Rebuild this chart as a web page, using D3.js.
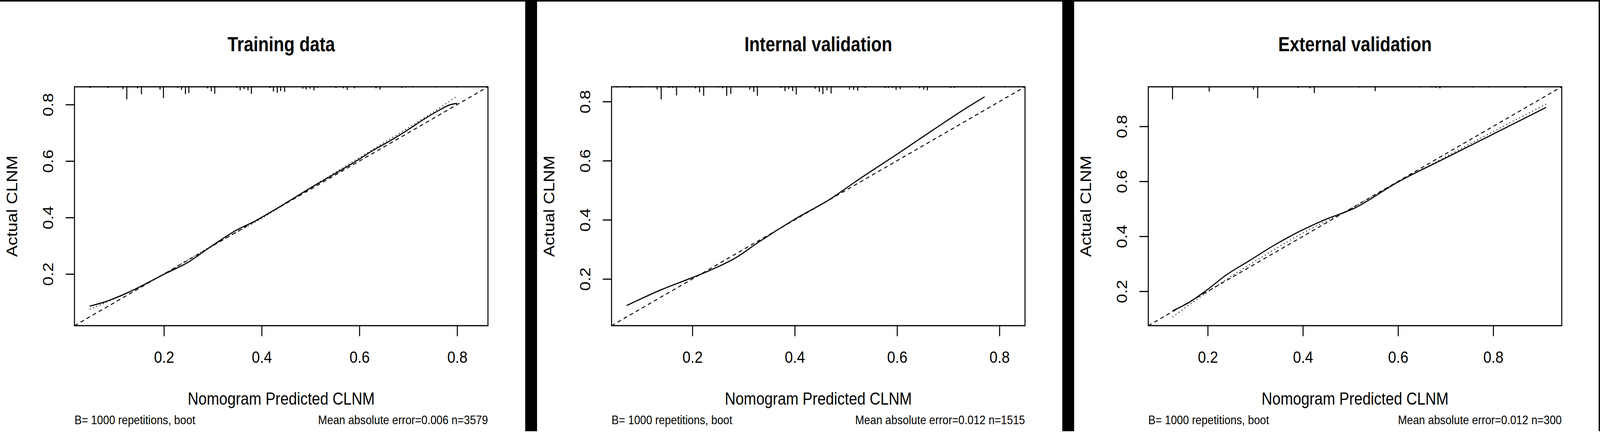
<!DOCTYPE html>
<html>
<head>
<meta charset="utf-8">
<script src="https://cdn.jsdelivr.net/npm/d3@7"></script>
<style>
html, body { margin: 0; padding: 0; background: #fff; overflow: hidden; }
svg { display: block; }
text { font-family: "Liberation Sans", Arial, sans-serif; fill: #000; }
</style>
</head>
<body>
<script>
// calibration curves, three panels

var titles = ["Training data", "Internal validation", "External validation"];
var xLabel = "Nomogram Predicted CLNM";
var yLabel = "Actual CLNM";
var footLeft = "B= 1000 repetitions, boot";
var footRight = ["Mean absolute error=0.006 n=3579", "Mean absolute error=0.012 n=1515", "Mean absolute error=0.012 n=300"];
var limits = [[0.017, 0.863], [0.042, 0.850], [0.075, 0.944]];
var tickValues = [0.2, 0.4, 0.6, 0.8];

// bias-corrected (solid)
var trainCorrected = [[0.048,0.086],[0.077,0.100],[0.096,0.112],[0.126,0.134],[0.142,0.147],[0.2,0.199],[0.247,0.239],[0.296,0.297],[0.346,0.353],[0.388,0.389],[0.43,0.431],[0.5,0.505],[0.6,0.607],[0.627,0.637],[0.661,0.670],[0.696,0.707],[0.731,0.747],[0.765,0.782],[0.785,0.799],[0.8,0.804]];
var internalCorrected = [[0.0715,0.110],[0.141,0.165],[0.199,0.204],[0.242,0.235],[0.285,0.272],[0.328,0.323],[0.4,0.402],[0.471,0.472],[0.522,0.533],[0.6,0.622],[0.672,0.706],[0.737,0.780],[0.771,0.816]];
var externalCorrected = [[0.126,0.129],[0.163,0.162],[0.2,0.207],[0.237,0.257],[0.288,0.312],[0.340,0.368],[0.384,0.410],[0.443,0.458],[0.509,0.503],[0.6,0.598],[0.7,0.685],[0.8,0.772],[0.911,0.869]];

// apparent (dotted)
var trainApparent = [[0.048,0.075],[0.1,0.113],[0.2,0.2],[0.3,0.302],[0.4,0.397],[0.5,0.506],[0.6,0.612],[0.7,0.718],[0.75,0.772],[0.8,0.83]];
var externalApparent = [[0.126,0.107],[0.2,0.198],[0.3,0.31],[0.4,0.412],[0.5,0.5],[0.6,0.598],[0.7,0.689],[0.8,0.781],[0.911,0.881]];

// histogram spikes of predicted values along the top
var trainRugX = [0.049,0.086,0.116,0.124,0.146,0.154,0.192,0.199,0.228,0.236,0.244,0.251,0.289,0.297,0.304,0.349,0.356,0.364,0.372,0.379,0.417,0.424,0.432,0.439,0.447,0.484,0.491,0.499,0.507,0.514,0.552,0.567,0.575,0.590,0.634,0.642,0.687,0.695,0.710,0.756,0.800];
var trainRugFreq = [3,3,6,32,4,19,7,29,3,8,19,16,4,12,18,3,9,6,9,18,3,12,15,11,13,5,7,5,9,3,3,4,8,4,4,7,3,2,2,2,2];
var internalRugX = [0.053,0.078,0.101,0.131,0.139,0.154,0.162,0.169,0.206,0.214,0.222,0.251,0.259,0.267,0.275,0.312,0.320,0.327,0.373,0.381,0.388,0.396,0.403,0.440,0.448,0.455,0.463,0.471,0.507,0.515,0.523,0.538,0.576,0.583,0.591,0.598,0.606,0.644,0.652,0.659,0.705,0.712,0.765,0.811];
var internalRugFreq = [2,3,2,7,32,3,3,22,4,14,23,2,4,23,18,7,13,23,3,11,6,11,20,5,13,19,9,17,7,8,10,3,3,3,3,8,6,4,7,9,3,3,2,2];
var externalRugX = [0.126,0.203,0.296,0.305,0.390,0.415,0.424,0.518,0.552,0.646,0.671,0.679,0.688,0.757,0.790,0.867];
var externalRugFreq = [32,12,7,29,3,4,16,2,11,2,2,3,4,2,2,3];

var panels = [
    {corrected: trainCorrected, apparent: trainApparent, rugX: trainRugX, rugF: trainRugFreq},
    {corrected: internalCorrected, apparent: null, rugX: internalRugX, rugF: internalRugFreq},
    {corrected: externalCorrected, apparent: externalApparent, rugX: externalRugX, rugF: externalRugFreq}
];

var W = 4725, H = 1105;
var offsets = [0, 1586, 3171];
// fit the whole figure into whatever viewport we get
var svg = d3.select("body").append("svg")
    .attr("viewBox", "0 0 " + W + " " + H)
    .attr("preserveAspectRatio", "none")
    .style("width", "100vw").style("height", "100vh");

// frame: top rule, separators, right rule
svg.append("rect").attr("x", 0).attr("y", 0).attr("width", W).attr("height", 4).attr("fill", "#000");
svg.append("rect").attr("x", W - 4).attr("y", 0).attr("width", 4).attr("height", 1103).attr("fill", "#000");
for (var s = 0; s < 2; s++) {
    svg.append("rect").attr("x", offsets[s] + 1551).attr("y", 0).attr("width", 35).attr("height", 1103).attr("fill", "#000");
}

var rugLen = d3.scaleLinear().domain([0, 32]).range([0, 32]);

panels.forEach(function(p, i) {
    var left = offsets[i] + 220, right = offsets[i] + 1441;
    var top = 222, bottom = 833;
    var x = d3.scaleLinear().domain(limits[i]).range([left, right]);
    var y = d3.scaleLinear().domain(limits[i]).range([bottom, top]);
    var g = svg.append("g");

    g.append("clipPath").attr("id", "clip" + i)
        .append("rect").attr("x", left).attr("y", top).attr("width", right - left).attr("height", bottom - top);

    // spikes
    g.selectAll(".rug").data(p.rugX).enter().append("line")
        .attr("x1", function(d) { return x(d); })
        .attr("x2", function(d) { return x(d); })
        .attr("y1", top)
        .attr("y2", function(d, k) { return top + rugLen(p.rugF[k]); })
        .style("stroke", "#000").style("stroke-width", 3);

    var plot = g.append("g").attr("clip-path", "url(#clip" + i + ")");
    var line = d3.line().x(function(d) { return x(d[0]); }).y(function(d) { return y(d[1]); }).curve(d3.curveMonotoneX);

    // ideal line
    plot.append("path").datum([[limits[i][0], limits[i][0]], [limits[i][1], limits[i][1]]])
        .attr("d", line).attr("fill", "none")
        .style("stroke", "#000").style("stroke-width", 2.5).style("stroke-dasharray", "11,9");

    if (p.apparent) {
        plot.append("path").datum(p.apparent)
            .attr("d", line).attr("fill", "none")
            .style("stroke", "#000").style("stroke-width", 2.5).style("stroke-dasharray", "2.5,8");
    }
    plot.append("path").datum(p.corrected)
        .attr("d", line).attr("fill", "none")
        .style("stroke", "#000").style("stroke-width", 3);

    // box
    g.append("rect").attr("x", left).attr("y", top).attr("width", right - left).attr("height", bottom - top)
        .attr("fill", "none").style("stroke", "#000").style("stroke-width", 3);

    // x axis
    var xAxis = d3.axisBottom(x).tickValues(tickValues).tickSize(27).tickFormat(d3.format(".1f"));
    var xa = g.append("g").attr("transform", "translate(0," + bottom + ")").call(xAxis);
    xa.select(".domain").remove();
    xa.selectAll(".tick line").style("stroke", "#000").style("stroke-width", 3);
    xa.selectAll(".tick text").attr("y", 0).attr("dy", 0)
        .attr("transform", "translate(0,95)")
        .style("font-size", "43px").style("font-family", '"Liberation Sans", Arial, sans-serif').attr("fill", "#000");

    // y axis
    var yAxis = d3.axisLeft(y).tickValues(tickValues).tickSize(26).tickFormat(d3.format(".1f"));
    var ya = g.append("g").attr("transform", "translate(" + left + ",0)").call(yAxis);
    ya.select(".domain").remove();
    ya.selectAll(".tick line").style("stroke", "#000").style("stroke-width", 3);
    ya.selectAll(".tick text").attr("x", 0).attr("dy", 0)
        .attr("transform", "translate(-63,0) rotate(-90)")
        .attr("text-anchor", "middle")
        .style("font-size", "43px").style("font-family", '"Liberation Sans", Arial, sans-serif').attr("fill", "#000");

    var cx = (left + right) / 2, cy = (top + bottom) / 2;
    g.append("text").attr("x", cx).attr("y", 131).attr("text-anchor", "middle")
        .style("font-size", "51px").style("font-weight", "bold").text(titles[i]);
    g.append("text").attr("x", cx).attr("y", 1035).attr("text-anchor", "middle")
        .style("font-size", "44px").text(xLabel);
    g.append("text").attr("transform", "translate(" + (left - 169) + "," + cy + ") rotate(-90)")
        .attr("text-anchor", "middle").style("font-size", "44px").text(yLabel);
    g.append("text").attr("x", left).attr("y", 1085).style("font-size", "32px").text(footLeft);
    g.append("text").attr("x", right).attr("y", 1085).attr("text-anchor", "end")
        .style("font-size", "32px").text(footRight[i]);
});
</script>
</body>
</html>
